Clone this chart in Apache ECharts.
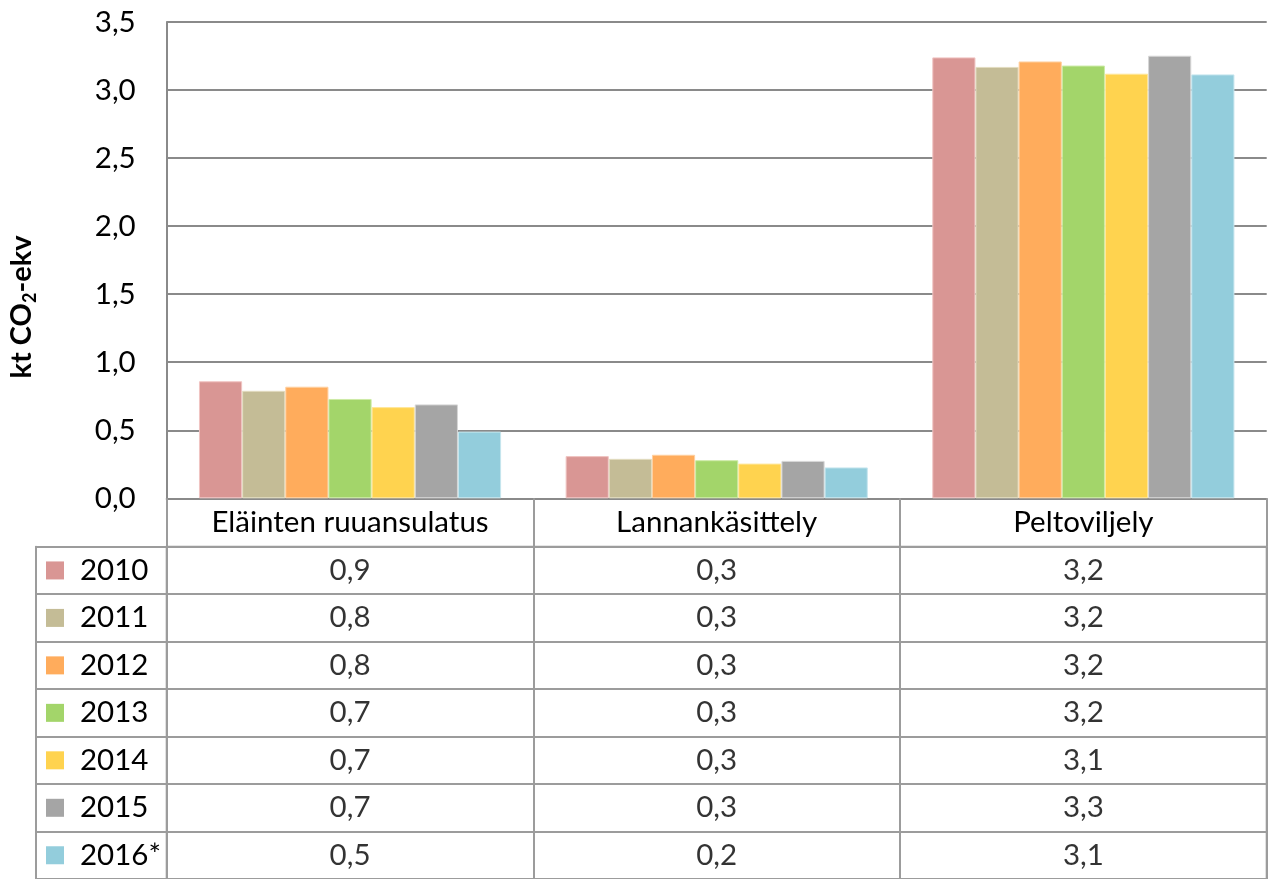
<!DOCTYPE html>
<html>
<head>
<meta charset="utf-8">
<script src="https://cdn.jsdelivr.net/npm/echarts@6/dist/echarts.min.js"></script>
<style>
  html, body { margin: 0; padding: 0; background: #fff; }
  #chart { width: 1269px; height: 879px; }
</style>
</head>
<body>
<div id="chart"></div>
<script>
// ---- data ----
const categories = ['Eläinten ruuansulatus', 'Lannankäsittely', 'Peltoviljely'];
const years = ['2010', '2011', '2012', '2013', '2014', '2015', '2016*'];
const values2010 = [0.86, 0.31, 3.24];
const values2011 = [0.79, 0.29, 3.17];
const values2012 = [0.82, 0.32, 3.21];
const values2013 = [0.73, 0.28, 3.18];
const values2014 = [0.67, 0.255, 3.12];
const values2015 = [0.69, 0.275, 3.252];
const values2016 = [0.49, 0.227, 3.115];
const yTicks = { min: 0, max: 3.5, interval: 0.5 };
const yTitle = ['kt CO', '2', '-ekv'];

const seriesValues = [values2010, values2011, values2012, values2013, values2014, values2015, values2016];
const colors = ['#D99694', '#C4BC96', '#FFAC5C', '#A3D56A', '#FFD34F', '#A5A5A5', '#93CDDC'];
const borders = ['#F0C4C2', '#E2DCC0', '#FFD0A0', '#CDEBA6', '#FFE79A', '#D6D6D6', '#C6E6EE'];

const FONT = 'Lato';
const FS = 29.5;
const GRID_LINE = '#8a8a8a';
const TABLE_LINE = '#9c9c9c';

const fmt = v => v.toFixed(1).replace('.', ',');

// layout
const plotLeft = 166.7, plotRight = 2.3, plotTop = 22, plotBottomY = 498.3;
const headerH = 48.4;
const rowH = 47.9;
const legendColLeft = 35.3;

const chart = echarts.init(document.getElementById('chart'), null, { renderer: 'canvas' });

const rich = { t: { fontFamily: FONT, fontSize: FS, color: '#000' }, g: { width: 16 } };
years.forEach((y, i) => {
  rich['s' + i] = { width: 18, height: 18, backgroundColor: colors[i] };
});

const tableData = [];
seriesValues.forEach((vals, yi) => {
  vals.forEach((v, ci) => tableData.push([ci, yi, v]));
});

const option = {
  animation: false,
  backgroundColor: '#fff',
  grid: [
    { left: plotLeft, right: plotRight, top: plotTop, height: plotBottomY - plotTop, containLabel: false },
    { left: plotLeft, right: plotRight, top: plotBottomY + headerH, height: rowH * years.length,
      show: true, borderColor: TABLE_LINE, borderWidth: 2, backgroundColor: 'transparent' }
  ],
  xAxis: [
    {
      gridIndex: 0, type: 'category', data: categories,
      axisLine: { show: true, lineStyle: { color: GRID_LINE, width: 2 } },
      axisTick: { show: true, alignWithLabel: false, interval: 0, length: headerH, lineStyle: { color: TABLE_LINE, width: 2 } },
      axisLabel: { interval: 0, margin: 0, fontFamily: FONT, fontSize: FS, color: '#000', lineHeight: headerH },
      splitLine: { show: false }
    },
    {
      gridIndex: 1, type: 'category', data: categories, position: 'top',
      axisLine: { show: false }, axisTick: { show: false }, axisLabel: { show: false },
      splitLine: { show: true, interval: 0, lineStyle: { color: TABLE_LINE, width: 2 } }
    }
  ],
  yAxis: [
    {
      gridIndex: 0, type: 'value', min: yTicks.min, max: yTicks.max, interval: yTicks.interval,
      axisLine: { show: true, lineStyle: { color: GRID_LINE, width: 2 } },
      axisTick: { show: false },
      axisLabel: { margin: 31, fontFamily: FONT, fontSize: FS, color: '#000', formatter: v => fmt(v) },
      splitLine: { show: true, lineStyle: { color: GRID_LINE, width: 2 } }
    },
    {
      gridIndex: 1, type: 'category', data: years, inverse: true,
      axisLine: { show: true, lineStyle: { color: TABLE_LINE, width: 2 } },
      axisTick: { show: true, alignWithLabel: false, interval: 0, length: plotLeft - legendColLeft, lineStyle: { color: TABLE_LINE, width: 2 } },
      axisLabel: {
        interval: 0, align: 'left', margin: plotLeft - 46,
        formatter: (val, idx) => '{s' + idx + '|}{g|}{t|' + val + '}',
        rich: rich
      },
      splitLine: { show: true, interval: 0, lineStyle: { color: TABLE_LINE, width: 2 } }
    },
    {
      gridIndex: 1, type: 'value', position: 'left', offset: plotLeft - legendColLeft,
      axisLine: { show: true, lineStyle: { color: TABLE_LINE, width: 2 } },
      axisTick: { show: false }, axisLabel: { show: false }, splitLine: { show: false }
    }
  ],
  series: [
    ...seriesValues.map((vals, i) => ({
      type: 'bar', name: years[i], xAxisIndex: 0, yAxisIndex: 0, data: vals,
      barGap: '0%', barCategoryGap: '17.6%',
      itemStyle: { color: colors[i], borderColor: borders[i], borderWidth: 1 },
      silent: true
    })),
    {
      type: 'scatter', xAxisIndex: 1, yAxisIndex: 1, data: tableData,
      symbolSize: 1, itemStyle: { color: 'rgba(0,0,0,0)' }, silent: true,
      label: { show: true, position: 'inside', fontFamily: FONT, fontSize: FS, color: '#000',
        formatter: p => fmt(p.value[2]) }
    }
  ],
  graphic: [
    {
      type: 'text', x: 22, y: 307, rotation: Math.PI / 2,
      style: {
        text: '{a|' + yTitle[0] + '}{b|' + yTitle[1] + '}{a|' + yTitle[2] + '}',
        align: 'center', verticalAlign: 'middle',
        rich: {
          a: { fontFamily: FONT, fontSize: 29, fontWeight: 'bold', color: '#000', lineHeight: 34 },
          b: { fontFamily: FONT, fontSize: 18, fontWeight: 'bold', color: '#000', verticalAlign: 'bottom', lineHeight: 18 }
        }
      }
    }
  ]
};

chart.setOption(option);
</script>
</body>
</html>
